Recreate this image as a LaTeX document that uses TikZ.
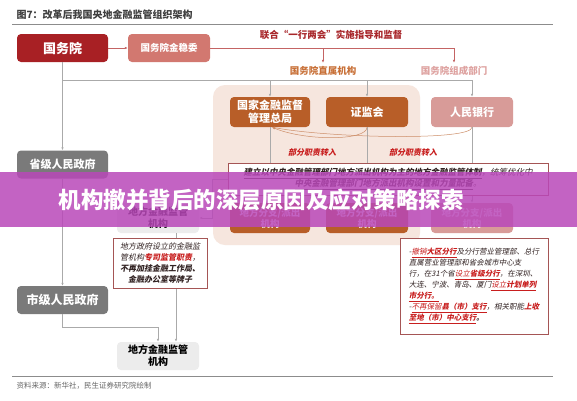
\documentclass[tikz,border=0pt]{standalone}
\usepackage{fontspec}
\setmainfont{Noto Sans CJK SC}
\newfontfamily\slfont{Noto Sans CJK SC}[FakeSlant=0.2]
\usetikzlibrary{arrows.meta,positioning}

\definecolor{gwyred}{RGB}{168,32,36}
\definecolor{jwred}{RGB}{210,120,112}
\definecolor{lblred}{RGB}{168,38,42}
\definecolor{zsorange}{RGB}{200,112,55}
\definecolor{zcpink}{RGB}{222,162,160}
\definecolor{peach}{RGB}{246,230,222}
\definecolor{brownbox}{RGB}{184,94,40}
\definecolor{pinkbox}{RGB}{216,155,152}
\definecolor{govgray}{RGB}{122,122,122}
\definecolor{lightbox}{RGB}{236,236,236}
\definecolor{lineg}{RGB}{170,170,170}
\definecolor{redline}{RGB}{196,100,100}
\definecolor{hlred}{RGB}{200,30,30}
\definecolor{txtdark}{RGB}{50,35,35}
\definecolor{bannerpurple}{RGB}{185,72,185}
\definecolor{rulegray}{RGB}{140,140,140}
\definecolor{tbborder}{RGB}{165,85,85}

\newcommand\fsz[2]{\fontsize{#1}{#2}\selectfont}
\newcommand\hl[1]{\textcolor{hlred}{\underline{#1}}}

\begin{document}
\begin{tikzpicture}[
x=1pt, y=-1pt,
box/.style={rounded corners=4pt, align=center, text=white, inner sep=1pt, minimum width=82pt, minimum height=30pt},
lbox/.style={box, fill=lightbox, text=black, font=\fsz{10}{12}\bfseries},
tbox/.style={draw=tbborder, fill=white, line width=0.6pt, align=center, inner sep=3pt, text=txtdark},
lbl/.style={font=\fsz{9.5}{11}\bfseries},
garr/.style={-{Latex[length=3pt,width=2.5pt]}, draw=lineg, line width=0.6pt},
gline/.style={draw=lineg, line width=0.6pt},
rarr/.style={-{Latex[length=3pt,width=2.5pt]}, draw=redline, line width=0.6pt}
]
\fill[white] (0,0) rectangle (577,400);
\useasboundingbox (0,0) rectangle (577,400);

% title and rules
\node[anchor=west, font=\fsz{10}{12}\bfseries, text=black!75] (title) at (13,15) {图7：改革后我国央地金融监管组织架构};
\draw[rulegray, line width=1pt] (12,24) -- (553,24);
\draw[rulegray, line width=1pt] (12,376) -- (553,376);
\node[anchor=west, font=\fsz{7.5}{9}, text=black!60] (src) at (13,386) {资料来源：新华社，民生证券研究院绘制};

% top level
\node[box, fill=gwyred, minimum width=91pt, minimum height=28pt, font=\fsz{13}{15}\bfseries] (gwy) at (62.5,48) {国务院};
\node[box, fill=jwred, minimum height=28pt, font=\fsz{9.5}{11}\bfseries] (jwh) at (169,48) {国务院金稳委};
\node[lbl, text=lblred] (zhidao) at (331,35) {联合“一行两会”实施指导和监督};
\node[lbl, text=zsorange] (zs) at (323,71) {国务院直属机构};
\node[lbl, text=zcpink] (zc) at (454,71) {国务院组成部门};
\draw[rarr] (gwy) -- (jwh);
\draw[redline, line width=0.6pt] (jwh.east) -- (zc.north |- jwh.east);
\draw[rarr] (zs.north |- jwh.east) -- (zs.north);
\draw[rarr] (zc.north |- jwh.east) -- (zc.north);

% central agencies
\fill[peach, rounded corners=12pt] (213,85) rectangle (420,245);
\node[box, fill=brownbox, minimum width=80pt, font=\fsz{11}{13}\bfseries] (gj) at (270,112) {国家金融监督\\管理总局};
\node[box, fill=brownbox, font=\fsz{11}{13}\bfseries] (zjh) at (367,112) {证监会};
\node[box, fill=pinkbox, font=\fsz{11}{13}\bfseries] (rmyh) at (472,112) {人民银行};
\node[box, fill=brownbox, minimum width=80pt, font=\fsz{9.5}{11}\bfseries] (pc1) at (270,218) {地方分支/派出\\机构};
\node[box, fill=brownbox, font=\fsz{9.5}{11}\bfseries] (pc2) at (367,218) {地方分支/派出\\机构};
\node[box, fill=pinkbox, font=\fsz{9.5}{11}\bfseries] (pc3) at (472,218) {地方分支/派出\\机构};

% local governments
\node[box, fill=govgray, minimum width=91pt, minimum height=28pt, font=\fsz{11}{13}\bfseries] (sj) at (62.5,164.5) {省级人民政府};
\node[box, fill=govgray, minimum width=91pt, minimum height=28pt, font=\fsz{12}{14}\bfseries] (shj) at (62.5,300) {市级人民政府};
\node[lbox] (dfj1) at (158,218) {地方金融监管\\机构};
\node[lbox, minimum height=28pt] (dfj2) at (158,356) {地方金融监管\\机构};

% connectors
\coordinate (hub) at (62.5,80);
\draw[gline] (hub) -- (rmyh.north |- hub);
\draw[garr] (gj.north |- hub) -- (gj.north);
\draw[garr] (zjh.north |- hub) -- (zjh.north);
\draw[garr] (rmyh.north |- hub) -- (rmyh.north);
\draw[garr] (gwy.south) -- (sj.north);
\draw[garr] (sj.south) -- (shj.north);
\draw[garr] (gj.south) -- (pc1.north);
\draw[garr] (zjh.south) -- (pc2.north);
\draw[garr] (rmyh.south) -- (pc3.north);
\draw[garr] ([xshift=18pt]dfj1.south) -- ([xshift=18pt]dfj2.north);
\draw[garr] (shj.south) -- ++(0,13) -| (dfj2.north);
\draw[-{Latex[length=3pt,width=2.5pt]}, draw=brownbox!70, line width=0.5pt] (zjh.south) .. controls (367,141) and (305,141) .. ([xshift=2pt]gj.south);
\draw[-{Latex[length=3pt,width=2.5pt]}, draw=brownbox!70, line width=0.5pt] (rmyh.south) .. controls (472,141) and (330,138) .. ([xshift=2pt]gj.south);
\node[font={\slfont\bfseries\fsz{8}{10}}, text=hlred] (zr1) at (312,152) {部分职责转入};
\node[font={\slfont\bfseries\fsz{8}{10}}, text=hlred] (zr2) at (413,152) {部分职责转入};

% text boxes
\node[tbox, minimum width=320pt, minimum height=32pt, font={\slfont\fsz{8.5}{11}}] (tb) at (388,179) {\underline{\bfseries 建立以中央金融管理部门地方派出机构为主的地方金融监管体制}，统筹优化中\\\underline{\bfseries 中央金融管理部门地方派出机构设置和力量配备}。};
\draw[garr] (tb.west) -- ++(-15,0) |- (dfj1.east);
\node[tbox, minimum width=94pt, minimum height=50pt, font={\slfont\fsz{8}{11}}] (tb2) at (160,263) {地方政府设立的金融监\\管机构{\bfseries\textcolor{hlred}{专司监管职责}}，\\{\bfseries 不再加挂金融工作局、}\\{\bfseries 金融办公室等牌子}};
\node[tbox, align=left, minimum width=148pt, minimum height=96pt, font={\slfont\fsz{7.5}{11}}] (tb3) at (474,286) {-\hl{撤销{\bfseries 大区分行}}及分行营业管理部、总行\\直属营业管理部和省会城市中心支\\行，在31个省\hl{设立{\bfseries 省级分行}}，在深圳、\\大连、宁波、青岛、厦门\hl{设立{\bfseries 计划单列}}\\\hl{\bfseries 市分行。}\\-\hl{不再保留{\bfseries 县（市）支行}}，相关职能{\bfseries\textcolor{hlred}{上收}}\\\hl{\bfseries 至地（市）中心支行}{\bfseries 。}};

% banner
\fill[bannerpurple, opacity=0.85] (0,172) rectangle (577,227);
\node[font=\fsz{22.5}{26}\bfseries, text=white] (ban) at (261,200) {机构撤并背后的深层原因及应对策略探索};
\end{tikzpicture}
\end{document}
